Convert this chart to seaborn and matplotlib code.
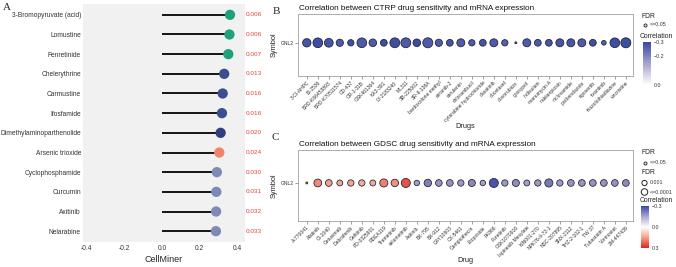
import numpy as np
import pandas as pd
import seaborn as sns
import matplotlib.pyplot as plt
from matplotlib.colors import LinearSegmentedColormap, Normalize
from matplotlib.cm import ScalarMappable

# ---- panel A: CellMiner correlation (lollipop)
a_drugs = ["3-Bromopyruvate (acid)", "Lomustine", "Fenretinide", "Chelerythrine",
           "Carmustine", "Ifosfamide", "Dimethylaminoparthenolide", "Arsenic trioxide",
           "Cyclophosphamide", "Curcumin", "Axitinib", "Nelarabine"]
a_cor = [0.363, 0.360, 0.354, 0.332, 0.324, 0.320, 0.313, 0.306, 0.293, 0.290, 0.289, 0.288]
a_pval = ["0.006", "0.006", "0.007", "0.013", "0.016", "0.016", "0.020", "0.024",
          "0.030", "0.031", "0.032", "0.033"]
a_group = ["g1", "g1", "g1", "g2", "g2", "g2", "g3", "g4", "g5", "g5", "g5", "g5"]

# ---- panel B: CTRP
b_drugs = ["3-Cl-AHPC", "BI-2536", "BRD-K66453893", "BRD-K70511574", "CD-437", "CR-1-31B",
           "GSK461364", "KX2-391", "LY-2183240", "ML311", "SB-225002", "SR-II-138A",
           "bardoxolone methyl", "ceranib-2", "cerulenin", "chlorambucil",
           "cytarabine hydrochloride", "dasatinib", "docetaxel", "doxorubicin", "gossypol",
           "indisulam", "manumycin A", "nakiterpiosin", "niclosamide", "parbendazole",
           "rigosertib", "tivantinib", "triazolothiadiazine", "vincristine"]
b_cor = [-0.28, -0.29, -0.28, -0.27, -0.29, -0.27, -0.27, -0.29, -0.29, -0.27,
         -0.29, -0.27, -0.27, -0.28, -0.27, -0.27, -0.28, -0.27, -0.26, -0.28,
         -0.27, -0.27, -0.28, -0.28, -0.28, -0.27, -0.29, -0.26, -0.29, -0.29]
b_logfdr = [3.2, 4.0, 3.4, 2.6, 2.2, 4.0, 2.8, 2.4, 4.1, 4.1,
            2.8, 4.2, 2.6, 2.4, 3.0, 2.2, 2.4, 3.0, 2.2, 1.0,
            3.0, 2.4, 2.4, 3.0, 3.0, 3.0, 2.4, 1.6, 4.0, 4.2]

# ---- panel C: GDSC
c_drugs = ["A-770041", "Afatinib", "CI-1040", "Cetuximab", "Dabrafenib", "Gefitinib",
           "PD-0325901", "RDEA119", "Trametinib", "selumetinib", "Axitinib", "BX-795",
           "BX-912", "CAY10603", "CX-5461", "Camptothecin", "Etoposide", "FK866",
           "Foretinib", "GSK1070916", "Ispinesib Mesylate", "KIN001-270", "NPK76-II-72-1",
           "NSC-207895", "SNX-2112", "THZ-2-102-1", "TW 37", "Tubastatin A",
           "Vorinostat", "ZM-447439"]
c_cor = [0.22, 0.17, 0.14, 0.13, 0.13, 0.12, 0.12, 0.18, 0.16, 0.24,
         -0.12, -0.18, -0.14, -0.14, -0.13, -0.16, -0.12, -0.27, -0.13, -0.15,
         -0.12, -0.13, -0.19, -0.13, -0.14, -0.14, -0.14, -0.14, -0.14, -0.15]
c_logfdr = [1.0, 3.2, 2.6, 2.2, 2.4, 2.4, 2.2, 3.4, 3.0, 4.0,
            2.0, 3.0, 2.6, 2.6, 2.4, 2.8, 2.0, 4.0, 2.4, 2.8,
            2.2, 2.4, 3.4, 2.4, 2.6, 2.6, 2.6, 2.6, 2.6, 2.6]

W, H = 676, 267
sns.set_style("white")
plt.rcParams["font.family"] = ["Liberation Sans", "DejaVu Sans"]


def box(x0, y0, x1, y1):
    return [x0 / W, 1 - y1 / H, (x1 - x0) / W, (y1 - y0) / H]


fig = plt.figure(figsize=(W / 100, H / 100), dpi=100)

# ---------------- A
ax_a = fig.add_axes(box(83, 4, 245, 242))
ax_a.set_facecolor("#F1F1F1")
ax_a.hlines(a_drugs, 0, a_cor, color="#151515", lw=1.4, zorder=2)
a_pal = {"g1": "#22A07B", "g2": "#3B4E8F", "g3": "#2F3F80", "g4": "#EE8568", "g5": "#7E8AB6"}
sns.scatterplot(x=a_cor, y=a_drugs, hue=a_group, palette=a_pal, s=55, linewidth=0,
                legend=False, ax=ax_a, zorder=3)
for i, p in enumerate(a_pval):
    ax_a.text(0.449, i, p, color="#E0443C", fontsize=4.6, va="center", ha="left",
              clip_on=False)
ax_a.set_xlim(-0.421, 0.443)
ax_a.set_ylim(11.55, -0.55)
ax_a.set_xticks([-0.4, -0.2, 0.0, 0.2, 0.4])
ax_a.set_xticklabels(["-0.4", "-0.2", "0.0", "0.2", "0.4"])
ax_a.tick_params(axis="both", length=0, labelsize=4.8, colors="#333333")
ax_a.tick_params(axis="y", pad=1.5)
ax_a.tick_params(axis="x", pad=2.5)
ax_a.set_xlabel("CellMiner", fontsize=6.5, labelpad=1.5)
ax_a.set_ylabel("")
for s in ax_a.spines.values():
    s.set_visible(False)

# ---------------- B and C
cmap_b = LinearSegmentedColormap.from_list("b", ["#3848A2", "#A8A2CF", "#FFFFFF"])
cmap_c = LinearSegmentedColormap.from_list(
    "c", ["#3848A8", "#8F8DBA", "#F4F4F8", "#F09A84", "#E2231B"])


def bubble(ax, drugs, cor, logfdr, cmap, norm, sizes, xlabel, label_y):
    df = pd.DataFrame({"drug": drugs, "symbol": "GNL2", "cor": cor, "logfdr": logfdr})
    sns.scatterplot(data=df, x="drug", y="symbol", hue="cor", size="logfdr",
                    palette=cmap, hue_norm=norm, sizes=sizes, size_norm=(1, 4.2),
                    edgecolor="#1E1E30", linewidth=0.55, legend=False, ax=ax, zorder=3)
    ax.set_xlim(-0.8, len(drugs) - 0.35)
    ax.set_ylim(-0.6, 0.52)
    plt.setp(ax.get_xticklabels(), rotation=45, ha="right", va="top",
             rotation_mode="anchor")
    ax.tick_params(axis="both", length=2, width=0.4, color="#555555", labelsize=3.6,
                   pad=1, bottom=True, left=True, labelcolor="#333333")
    ax.set_xlabel(xlabel, fontsize=5.3, color="#222222", va="center")
    ax.xaxis.set_label_coords(0.5, label_y)
    ax.set_ylabel("Symbol", fontsize=5.3, labelpad=2, color="#222222")
    for s in ax.spines.values():
        s.set_color("#A0A0A0")
        s.set_linewidth(0.6)


ax_b = fig.add_axes(box(298, 14, 633, 76))
bubble(ax_b, b_drugs, b_cor, b_logfdr, cmap_b, (-0.3, 0.0), (2, 52), "Drugs",
       -(126 - 76) / 62)

ax_c = fig.add_axes(box(298, 150, 633, 221))
bubble(ax_c, c_drugs, c_cor, c_logfdr, cmap_c, (-0.3, 0.3), (2, 45), "Drug",
       -(261 - 221) / 71)

# colourbars
cax_b = fig.add_axes(box(643, 42, 651, 85))
cb = fig.colorbar(ScalarMappable(Normalize(-0.3, 0.0), cmap_b), cax=cax_b)
cax_b.invert_yaxis()
cb.set_ticks([-0.3, -0.2, 0.0])
cb.set_ticklabels(["\u22120.3", "\u22120.2", "0.0"])
cb.outline.set_visible(False)
cax_b.tick_params(length=0, labelsize=3.8, pad=2, labelcolor="#333333")

cax_c = fig.add_axes(box(641, 206, 649, 248))
cc = fig.colorbar(ScalarMappable(Normalize(-0.3, 0.3),
                                 LinearSegmentedColormap.from_list(
                                     "cb", ["#3848A8", "#A9A6D0", "#FFFFFF", "#F2A08A", "#E2231B"])),
                  cax=cax_c)
cax_c.invert_yaxis()
cc.set_ticks([-0.3, 0.0, 0.3])
cc.set_ticklabels(["\u22120.3", "0.0", "0.3"])
cc.outline.set_visible(False)
cax_c.tick_params(length=0, labelsize=3.8, pad=2, labelcolor="#333333")

# overlay for titles, panel letters and legend keys (pixel coordinates)
ov = fig.add_axes([0, 0, 1, 1])
ov.set_xlim(0, W)
ov.set_ylim(H, 0)
ov.axis("off")
serif = ["Liberation Serif", "DejaVu Serif"]
ov.text(3, 7, "A", fontsize=8, family=serif, va="center")
ov.text(273, 11, "B", fontsize=8, family=serif, va="center")
ov.text(272, 138, "C", fontsize=8, family=serif, va="center")
ov.text(299, 8, "Correlation between CTRP drug sensitivity and mRNA expression",
        fontsize=5.9, va="center", color="#111111")
ov.text(299, 144, "Correlation between GDSC drug sensitivity and mRNA expression",
        fontsize=5.9, va="center", color="#111111")

leg = dict(fontsize=4.9, va="center", color="#222222")
key = dict(fontsize=3.8, va="center", color="#333333")
ov.text(641, 16, "FDR", **leg)
ov.scatter([644.5], [25], s=5, facecolor="#DDDDDD", edgecolor="#222222", lw=0.6)
ov.text(650, 25, "<=0.05", **key)
ov.text(640, 36, "Correlation", **leg)

ov.text(641, 153, "FDR", **leg)
ov.scatter([644.5], [163], s=5, facecolor="#DDDDDD", edgecolor="#222222", lw=0.6)
ov.text(650, 163, "<=0.05", **key)
ov.text(641, 173, "FDR", **leg)
ov.scatter([644.5], [183], s=14, facecolor="none", edgecolor="#222222", lw=0.7)
ov.text(650, 183, "0.001", **key)
ov.scatter([644.5], [192], s=22, facecolor="none", edgecolor="#222222", lw=0.7)
ov.text(650, 192, "<=0.0001", **key)
ov.text(640, 201, "Correlation", **leg)

fig.savefig("out.png", dpi=100)
